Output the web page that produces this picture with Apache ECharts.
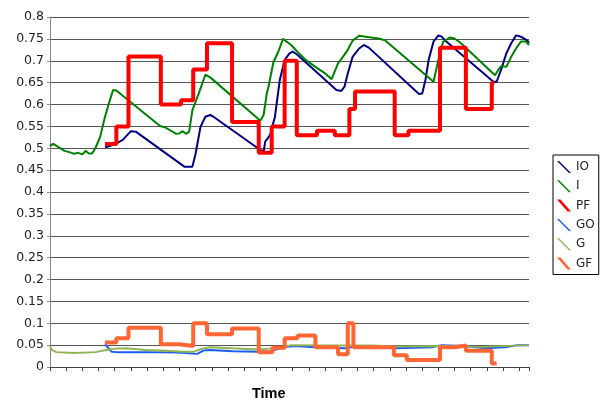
<!DOCTYPE html>
<html>
<head>
<meta charset="utf-8">
<script src="https://cdn.jsdelivr.net/npm/echarts@6/dist/echarts.min.js"></script>
<style>
  html, body { margin: 0; padding: 0; background: #fff; }
  #chart { width: 600px; height: 407px; }
</style>
</head>
<body>
<div id="chart"></div>
<script>
// time index (0..296), value
const seriesNames = ["IO", "I", "PF", "GO", "G", "GF"];

const ioData = [
  [34, 0.502], [37, 0.505], [41, 0.511], [45, 0.519], [50, 0.539], [53, 0.538],
  [83, 0.458], [88, 0.458], [90, 0.488], [93, 0.549], [96, 0.572], [99, 0.576], [101, 0.572],
  [130, 0.496], [132, 0.492], [133, 0.515], [136, 0.53], [139, 0.572], [142, 0.656],
  [145, 0.702], [148, 0.717], [150, 0.721], [153, 0.713],
  [177, 0.633], [180, 0.631], [182, 0.641], [184, 0.671], [187, 0.709], [191, 0.728],
  [194, 0.736], [197, 0.73],
  [228, 0.624], [230, 0.625], [232, 0.656], [234, 0.702], [237, 0.744], [240, 0.758],
  [242, 0.755], [244, 0.747],
  [274, 0.652], [276, 0.652], [279, 0.682], [282, 0.717], [285, 0.74], [288, 0.758],
  [291, 0.755], [295, 0.746], [296, 0.741]
];

const iData = [
  [0, 0.505], [2, 0.51], [5, 0.503], [9, 0.494], [13, 0.49], [15, 0.487], [17, 0.49],
  [20, 0.486], [22, 0.494], [24, 0.488], [26, 0.488], [28, 0.5], [31, 0.526], [34, 0.572],
  [37, 0.61], [39, 0.633], [41, 0.632],
  [68, 0.551], [71, 0.548], [78, 0.533], [80, 0.534], [82, 0.539], [84, 0.533], [86, 0.538],
  [88, 0.587], [92, 0.626], [96, 0.668], [99, 0.662],
  [130, 0.563], [132, 0.576], [134, 0.626], [135, 0.64], [138, 0.696], [141, 0.72], [144, 0.75],
  [149, 0.736], [153, 0.72], [158, 0.702], [164, 0.686], [170, 0.671], [174, 0.658],
  [175, 0.667], [178, 0.694], [181, 0.709], [184, 0.725], [187, 0.746], [191, 0.757],
  [195, 0.755], [203, 0.751], [207, 0.747],
  [237, 0.652], [238, 0.648], [240, 0.702], [243, 0.744], [247, 0.753], [250, 0.751], [254, 0.74],
  [275, 0.667], [277, 0.679], [279, 0.688], [282, 0.686], [285, 0.709], [288, 0.728],
  [291, 0.744], [294, 0.744], [296, 0.736]
];

// step values: each value holds from its time until the next one
const pfData = [
  [34, 0.51], [41, 0.55], [48.5, 0.71], [68.5, 0.60], [81, 0.61], [88.5, 0.68], [97, 0.74],
  [112.5, 0.56], [129, 0.49], [137, 0.55], [145, 0.70], [152.5, 0.53], [165, 0.54],
  [176, 0.53], [185, 0.59], [188.5, 0.63], [213, 0.53], [221.5, 0.54], [241, 0.73],
  [257, 0.59], [273, 0.65], [274.5, 0.65]
];

const goData = [
  [34, 0.052], [38, 0.035], [41, 0.034], [59, 0.034], [79, 0.033], [91, 0.03], [95, 0.038],
  [99, 0.039], [113, 0.036], [129, 0.035], [136, 0.036], [144, 0.045], [151, 0.048],
  [164, 0.045], [182, 0.043], [188, 0.046], [198, 0.048], [213, 0.043], [236, 0.045],
  [242, 0.05], [256, 0.048], [269, 0.043], [281, 0.045], [289, 0.05], [296, 0.05]
];

const gData = [
  [0, 0.049], [1, 0.039], [4, 0.034], [15, 0.032], [28, 0.034], [35, 0.039], [40, 0.042],
  [47, 0.043], [59, 0.039], [71, 0.037], [83, 0.035], [89, 0.035], [94, 0.042], [99, 0.045],
  [112, 0.043], [129, 0.04], [135, 0.042], [145, 0.046], [149, 0.05], [173, 0.049],
  [198, 0.049], [216, 0.047], [241, 0.048], [266, 0.046], [296, 0.05]
];

const gfData = [
  [34, 0.056], [41, 0.066], [48.5, 0.09], [68.5, 0.052], [80, 0.048], [88.5, 0.1],
  [97, 0.075], [112.5, 0.088], [129, 0.034], [137.5, 0.044], [145, 0.066], [153, 0.072],
  [164, 0.045], [178, 0.029], [184, 0.1], [187.5, 0.045], [212.5, 0.027], [220.5, 0.016],
  [241, 0.045], [250, 0.049], [257, 0.037], [273, 0.008], [276, 0.008]
];

const colors = ["#000080", "#008000", "#ff0000", "#1a5cf0", "#8fb552", "#ff6633"];
const widths = [2, 2, 4, 2, 2, 4];
const steps = [false, false, "end", false, false, "end"];
const allData = [ioData, iData, pfData, goData, gData, gfData];

const thinIcon = "path://M0,0 L2,0 L14,12 L12,12 Z";
const thickIcon = "path://M0,0 L3.5,0 L14,12 L10.5,12 Z";

const chart = echarts.init(document.getElementById("chart"));
const option = {
  animation: false,
  color: colors,
  title: {
    text: "Time",
    left: 252,
    top: 386,
    padding: 0,
    textStyle: {
      fontFamily: "Liberation Sans",
      fontSize: 14.5,
      fontWeight: "bold",
      color: "#000",
    },
  },
  grid: {
    left: 50,
    right: 71,
    top: 17,
    bottom: 40,
    containLabel: false,
  },
  legend: {
    orient: "vertical",
    left: 553,
    top: 155,
    padding: [6, 4, 5, 4],
    itemWidth: 14,
    itemHeight: 12,
    itemGap: 7.3,
    borderColor: "#000",
    borderWidth: 1,
    itemStyle: { borderWidth: 0 },
    textStyle: {
      fontFamily: "DejaVu Sans",
      fontSize: 12,
      color: "#222",
    },
    data: seriesNames.map(function(n, i) {
      return { name: n, icon: widths[i] > 2 ? thickIcon : thinIcon };
    }),
  },
  xAxis: {
    type: "value",
    min: 0,
    max: 296,
    interval: 10,
    axisLine: { lineStyle: { color: "#444", width: 1 } },
    axisTick: { show: true, length: 4, lineStyle: { color: "#444" } },
    axisLabel: { show: false },
    splitLine: { show: false },
  },
  yAxis: {
    type: "value",
    min: 0,
    max: 0.8,
    interval: 0.05,
    axisLine: { show: true, lineStyle: { color: "#888" } },
    axisTick: { show: true, length: 3, lineStyle: { color: "#888" } },
    axisLabel: {
      margin: 6,
      color: "#222",
      fontFamily: "DejaVu Sans",
      fontSize: 12.5,
    },
    splitLine: { show: true, lineStyle: { color: "#555", width: 1 } },
  },
  series: seriesNames.map(function(n, i) {
    return {
      name: n,
      type: "line",
      data: allData[i],
      step: steps[i],
      showSymbol: false,
      symbol: "none",
      smooth: false,
      lineStyle: { color: colors[i], width: widths[i] },
      itemStyle: { color: colors[i] },
      z: 2 + i,
    };
  }),
};
chart.setOption(option);
</script>
</body>
</html>
